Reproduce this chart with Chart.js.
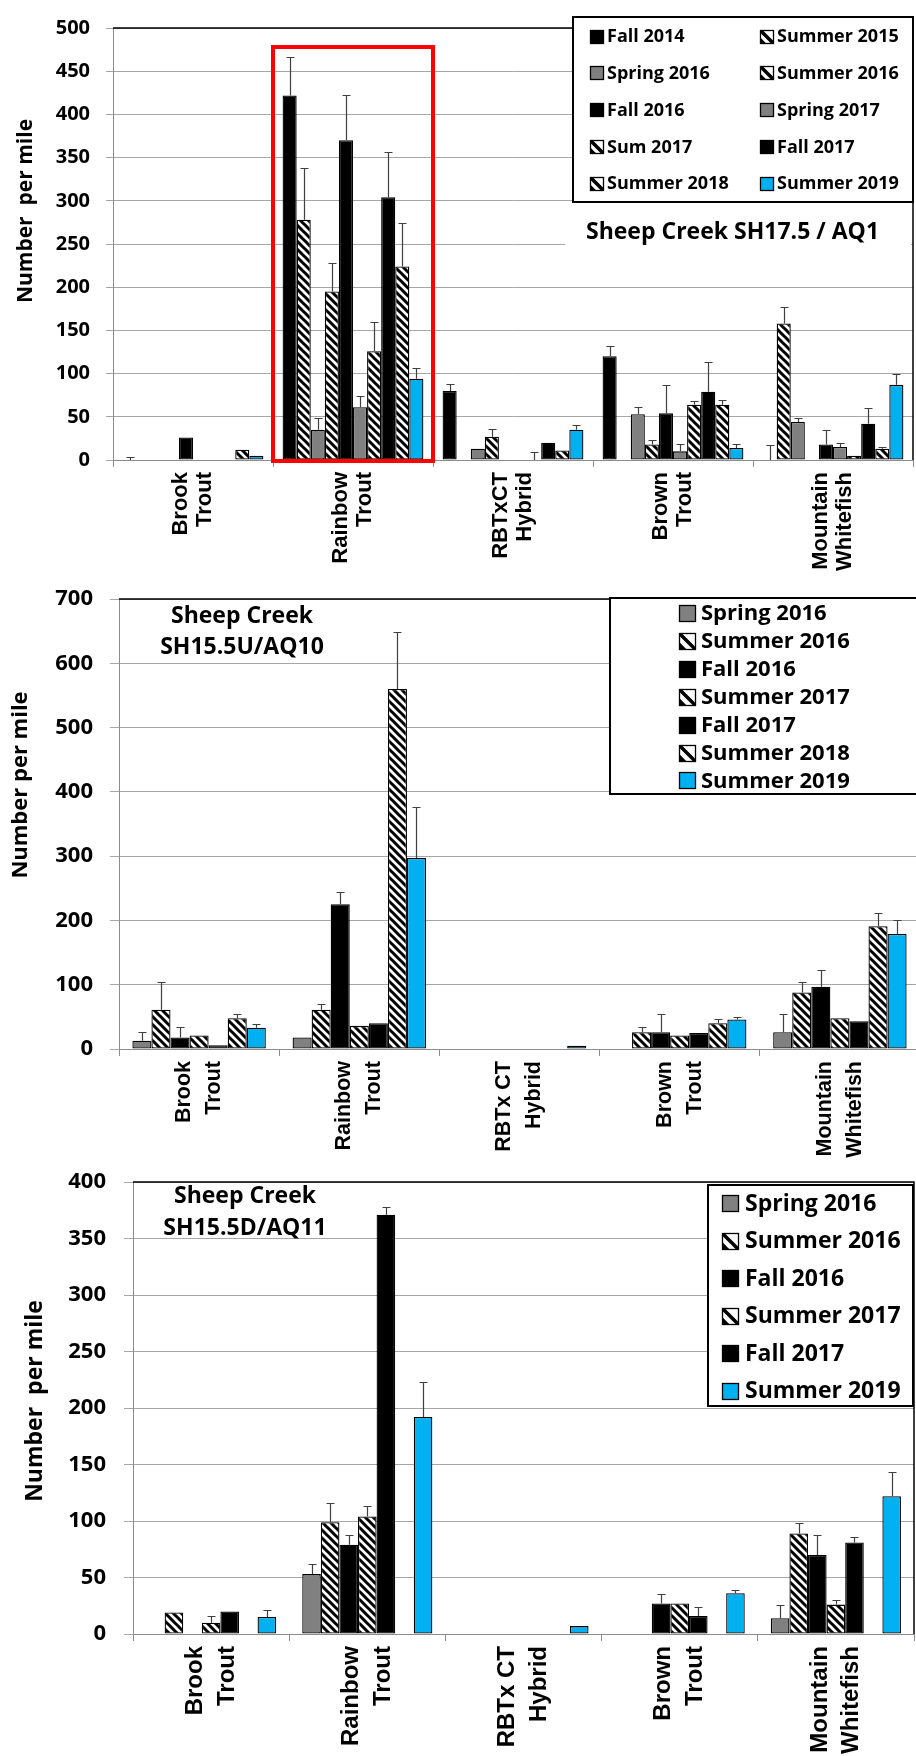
<!DOCTYPE html>
<html>
<head>
<meta charset="utf-8">
<script src="https://cdn.jsdelivr.net/npm/chart.js@4.4.0/dist/chart.umd.min.js"></script>
<style>
  html, body { margin: 0; padding: 0; background: #fff; overflow: hidden; width: 916px; height: 1756px; }
  canvas { position: absolute; left: 0; top: 0; }
</style>
</head>
<body>
<canvas id="aq1" width="930" height="1756"></canvas>
<canvas id="aq10" width="930" height="1756"></canvas>
<canvas id="aq11" width="930" height="1756"></canvas>
<script>
// ---- data (Number per mile), categories in order ----
const speciesAQ1 = [['Brook', 'Trout'], ['Rainbow', 'Trout'], ['RBTxCT', 'Hybrid'], ['Brown', 'Trout'], ['Mountain', 'Whitefish']];
const speciesAQ10 = [['Brook', 'Trout'], ['Rainbow', 'Trout'], ['RBTx CT', 'Hybrid'], ['Brown', 'Trout'], ['Mountain', 'Whitefish']];
const speciesAQ11 = speciesAQ10;

// Sheep Creek SH17.5 / AQ1
const aq1Fall2014     = [0, 422, 80, 120, 0],  aq1Fall2014Err     = [3, 44, 8, 12, 17];
const aq1Summer2015   = [0, 278, 0, 0, 158],   aq1Summer2015Err   = [0, 60, 0, 0, 19];
const aq1Spring2016   = [0, 35, 13, 53, 44],   aq1Spring2016Err   = [0, 14, 0, 8, 5];
const aq1Summer2016   = [0, 195, 27, 18, 0],   aq1Summer2016Err   = [0, 33, 9, 5, 0];
const aq1Fall2016     = [26, 370, 0, 54, 18],  aq1Fall2016Err     = [0, 52, 0, 33, 17];
const aq1Spring2017   = [0, 61, 0, 10, 15],    aq1Spring2017Err   = [0, 13, 0, 9, 5];
const aq1Sum2017      = [0, 126, 0, 64, 5],    aq1Sum2017Err      = [0, 34, 9, 4, 0];
const aq1Fall2017     = [0, 304, 20, 79, 42],  aq1Fall2017Err     = [0, 52, 0, 35, 18];
const aq1Summer2018   = [12, 224, 11, 64, 13], aq1Summer2018Err   = [0, 50, 0, 6, 2];
const aq1Summer2019   = [5, 94, 35, 14, 87],   aq1Summer2019Err   = [0, 13, 6, 4, 13];

// Sheep Creek SH15.5U / AQ10
const aq10Spring2016  = [13, 18, 0, 0, 26],    aq10Spring2016Err  = [13, 0, 0, 0, 28];
const aq10Summer2016  = [61, 61, 0, 26, 88],   aq10Summer2016Err  = [44, 9, 0, 9, 17];
const aq10Fall2016    = [18, 225, 0, 26, 97],  aq10Fall2016Err    = [17, 20, 0, 28, 26];
const aq10Summer2017  = [21, 36, 0, 21, 48],   aq10Summer2017Err  = [0, 0, 0, 0, 0];
const aq10Fall2017    = [6, 40, 0, 25, 43],    aq10Fall2017Err    = [0, 0, 0, 0, 0];
const aq10Summer2018  = [48, 560, 0, 40, 191], aq10Summer2018Err  = [6, 89, 0, 6, 21];
const aq10Summer2019  = [33, 297, 5, 46, 179], aq10Summer2019Err  = [6, 79, 0, 4, 22];

// Sheep Creek SH15.5D / AQ11 (no Summer 2018 sample, slot kept empty)
const aq11Spring2016  = [0, 53, 0, 0, 14],     aq11Spring2016Err  = [0, 9, 0, 0, 12];
const aq11Summer2016  = [19, 99, 0, 0, 89],    aq11Summer2016Err  = [0, 17, 0, 0, 9];
const aq11Fall2016    = [0, 79, 0, 27, 70],    aq11Fall2016Err    = [0, 9, 0, 8, 18];
const aq11Summer2017  = [10, 104, 0, 27, 26],  aq11Summer2017Err  = [6, 9, 0, 0, 4];
const aq11Fall2017    = [20, 371, 0, 16, 81],  aq11Fall2017Err    = [0, 7, 0, 8, 5];
const aq11Summer2018  = [null, null, null, null, null];
const aq11Summer2019  = [15, 192, 7, 36, 122], aq11Summer2019Err  = [6, 31, 0, 3, 21];

// ---- fills ----
function makeHatch() {
  const c = document.createElement('canvas');
  c.width = 8; c.height = 8;
  const g = c.getContext('2d');
  g.fillStyle = '#fff';
  g.fillRect(0, 0, 8, 8);
  g.strokeStyle = '#000';
  g.lineWidth = 3;
  g.beginPath();
  for (const k of [-8, 0, 8]) {
    g.moveTo(k - 2, -2);
    g.lineTo(k + 10, 10);
  }
  g.stroke();
  return g.createPattern(c, 'repeat');
}
const hatch = makeHatch();
const fills = { black: '#000000', gray: '#808080', blue: '#00b0f0', hatch: hatch };

function series(label, kind, data, err) {
  return {
    label: label, kind: kind, data: data, err: err || [],
    backgroundColor: fills[kind], borderColor: '#000', borderWidth: 1.3, borderSkipped: false
  };
}

// ---- decorations: error bars, frame, legend box, titles ----
const decor = {
  id: 'decor',
  afterDatasetsDraw(chart, args, o) {
    const ctx = chart.ctx, a = chart.chartArea, xs = chart.scales.x, ys = chart.scales.y;
    ctx.save();

    // error bars
    ctx.strokeStyle = '#404040';
    ctx.lineWidth = 1.2;
    chart.data.datasets.forEach((ds, i) => {
      const meta = chart.getDatasetMeta(i);
      meta.data.forEach((bar, j) => {
        const e = ds.err[j];
        if (!e) return;
        const v = ds.data[j] || 0;
        const x = Math.round(bar.x) + 0.5;
        const y0 = ys.getPixelForValue(v), y1 = Math.round(ys.getPixelForValue(v + e)) + 0.5;
        ctx.beginPath();
        ctx.moveTo(x, y0); ctx.lineTo(x, y1);
        ctx.moveTo(x - 4, y1); ctx.lineTo(x + 4, y1);
        ctx.stroke();
      });
    });

    // plot frame top and right
    ctx.strokeStyle = '#000';
    ctx.lineWidth = 1.5;
    ctx.beginPath();
    ctx.moveTo(a.left, a.top); ctx.lineTo(a.right, a.top); ctx.lineTo(a.right, a.bottom);
    ctx.stroke();

    // highlight box
    if (o.redBox) {
      const w = (xs.right - xs.left) / chart.data.labels.length;
      const cx = xs.getPixelForValue(o.redBox.index);
      const top = ys.getPixelForValue(o.redBox.top), bot = ys.getPixelForValue(0) + 1;
      ctx.strokeStyle = '#ff0000';
      ctx.lineWidth = 4;
      ctx.strokeRect(cx - w / 2, top, w, bot - top);
    }

    // panel title
    if (o.titleBg) {
      ctx.fillStyle = '#fff';
      ctx.fillRect(o.titleBg[0], o.titleBg[1], o.titleBg[2], o.titleBg[3]);
    }
    ctx.fillStyle = '#000';
    ctx.font = 'bold ' + o.titleSize + 'px "Open Sans"';
    ctx.textAlign = o.titleAlign;
    ctx.textBaseline = 'alphabetic';
    o.title.forEach(t => ctx.fillText(t[0], t[1], t[2]));

    // legend
    const L = o.legend;
    ctx.fillStyle = '#fff';
    ctx.fillRect(L.x, L.y, L.w, L.h);
    ctx.strokeStyle = '#000';
    ctx.lineWidth = 2;
    ctx.strokeRect(L.x, L.y, L.w, L.h);
    ctx.font = 'bold ' + L.font + 'px "Open Sans"';
    ctx.textAlign = 'left';
    ctx.textBaseline = 'middle';
    let n = 0;
    chart.data.datasets.forEach(ds => {
      if (ds.data.every(v => v === null)) return;
      const col = n % L.cols.length, row = Math.floor(n / L.cols.length);
      const ix = L.cols[col], iy = L.row0 + row * L.rowStep;
      const s = L.icon;
      const top = Math.round(iy - s / 2) + 0.5, left = ix + 0.5;
      if (ds.kind === 'hatch') {
        ctx.fillStyle = '#fff';
        ctx.fillRect(left, top, s, s);
        ctx.save();
        ctx.beginPath(); ctx.rect(left, top, s, s); ctx.clip();
        ctx.strokeStyle = '#000'; ctx.lineWidth = 3.5;
        ctx.beginPath(); ctx.moveTo(left, top); ctx.lineTo(left + s, top + s); ctx.stroke();
        ctx.fillStyle = '#000';
        ctx.beginPath(); ctx.moveTo(left, top + s * 0.55); ctx.lineTo(left, top + s); ctx.lineTo(left + s * 0.45, top + s); ctx.fill();
        ctx.restore();
      } else {
        ctx.fillStyle = ds.backgroundColor;
        ctx.fillRect(left, top, s, s);
      }
      ctx.strokeStyle = '#000'; ctx.lineWidth = 1.3;
      ctx.strokeRect(left, top, s, s);
      ctx.fillStyle = '#000';
      ctx.fillText(ds.label, ix + L.gap, iy + 1);
      n++;
    });

    // y axis title
    const T = o.yTitle;
    ctx.translate(T.x, T.y);
    ctx.rotate(-Math.PI / 2);
    ctx.font = 'bold ' + T.size + 'px "Open Sans"';
    ctx.textAlign = 'center';
    ctx.textBaseline = 'middle';
    ctx.fillStyle = '#000';
    ctx.fillText(T.text, 0, 0);
    ctx.restore();
  }
};

function buildPanel(id, p) {
  const axisH = p.axisH;
  return new Chart(document.getElementById(id), {
    type: 'bar',
    data: { labels: p.labels, datasets: p.datasets },
    options: {
      responsive: false,
      animation: false,
      events: [],
      devicePixelRatio: 1,
      datasets: { bar: { categoryPercentage: p.catPct, barPercentage: 1 } },
      layout: { padding: { left: 0, top: p.area.top, right: 930 - p.area.right, bottom: 1756 - p.area.bottom - axisH } },
      plugins: { legend: { display: false }, tooltip: { enabled: false }, decor: p.decor },
      scales: {
        x: {
          grid: { offset: true, drawOnChartArea: false, drawTicks: true, tickLength: 7, color: '#8c8c8c' },
          border: { color: '#8c8c8c', width: 1 },
          ticks: {
            autoSkip: false, minRotation: 90, maxRotation: 90, padding: 5, color: '#000',
            labelOffset: -p.xFont * p.xLine / 2,
            font: { family: '"Liberation Sans", Arial, sans-serif', weight: 'bold', size: p.xFont, lineHeight: p.xLine }
          },
          afterFit: s => { s.height = axisH; }
        },
        y: {
          min: 0, max: p.yMax,
          ticks: { stepSize: p.yStep, padding: p.yPad, color: '#000',
            font: { family: '"Open Sans"', weight: 'bold', size: p.yFont } },
          grid: { color: '#a6a6a6', lineWidth: 1, tickLength: p.yTick },
          border: { color: '#8c8c8c', width: 1 },
          afterFit: s => { s.width = p.area.left; }
        }
      }
    },
    plugins: [decor]
  });
}

buildPanel('aq1', {
  labels: speciesAQ1,
  area: { left: 113, top: 17, right: 913, bottom: 460 }, axisH: 125,
  catPct: 0.88, yMax: 500, yStep: 50, yFont: 20, yPad: 16, yTick: 7, xFont: 22, xLine: 1.1,
  datasets: [
    series('Fall 2014', 'black', aq1Fall2014, aq1Fall2014Err),
    series('Summer 2015', 'hatch', aq1Summer2015, aq1Summer2015Err),
    series('Spring 2016', 'gray', aq1Spring2016, aq1Spring2016Err),
    series('Summer 2016', 'hatch', aq1Summer2016, aq1Summer2016Err),
    series('Fall 2016', 'black', aq1Fall2016, aq1Fall2016Err),
    series('Spring 2017', 'gray', aq1Spring2017, aq1Spring2017Err),
    series('Sum 2017', 'hatch', aq1Sum2017, aq1Sum2017Err),
    series('Fall 2017', 'black', aq1Fall2017, aq1Fall2017Err),
    series('Summer 2018', 'hatch', aq1Summer2018, aq1Summer2018Err),
    series('Summer 2019', 'blue', aq1Summer2019, aq1Summer2019Err)
  ],
  decor: {
    redBox: { index: 1, top: 478 },
    titleBg: [565, 214, 346, 33],
    titleSize: 23, titleAlign: 'left',
    title: [['Sheep Creek SH17.5 / AQ1', 586, 239]],
    legend: { x: 573, y: 17, w: 340, h: 185, cols: [590, 760], gap: 17, row0: 36, rowStep: 36.8, icon: 13, font: 18 },
    yTitle: { text: 'Number  per mile', x: 26, y: 211, size: 21 }
  }
});

buildPanel('aq10', {
  labels: speciesAQ10,
  area: { left: 119, top: 599, right: 920, bottom: 1049 }, axisH: 125,
  catPct: 0.833, yMax: 700, yStep: 100, yFont: 22, yPad: 17, yTick: 9, xFont: 21.5, xLine: 1.4,
  datasets: [
    series('Spring 2016', 'gray', aq10Spring2016, aq10Spring2016Err),
    series('Summer 2016', 'hatch', aq10Summer2016, aq10Summer2016Err),
    series('Fall 2016', 'black', aq10Fall2016, aq10Fall2016Err),
    series('Summer 2017', 'hatch', aq10Summer2017, aq10Summer2017Err),
    series('Fall 2017', 'black', aq10Fall2017, aq10Fall2017Err),
    series('Summer 2018', 'hatch', aq10Summer2018, aq10Summer2018Err),
    series('Summer 2019', 'blue', aq10Summer2019, aq10Summer2019Err)
  ],
  decor: {
    titleSize: 23, titleAlign: 'center',
    title: [['Sheep Creek', 242, 623], ['SH15.5U/AQ10', 242, 654]],
    legend: { x: 610, y: 598, w: 330, h: 196, cols: [679], gap: 22, row0: 613, rowStep: 27.9, icon: 16, font: 22 },
    yTitle: { text: 'Number per mile', x: 21, y: 785, size: 22 }
  }
});

buildPanel('aq11', {
  labels: speciesAQ11,
  area: { left: 133, top: 1182, right: 914, bottom: 1634 }, axisH: 122,
  catPct: 0.833, yMax: 400, yStep: 50, yFont: 22, yPad: 18, yTick: 9, xFont: 24, xLine: 1.33,
  datasets: [
    series('Spring 2016', 'gray', aq11Spring2016, aq11Spring2016Err),
    series('Summer 2016', 'hatch', aq11Summer2016, aq11Summer2016Err),
    series('Fall 2016', 'black', aq11Fall2016, aq11Fall2016Err),
    series('Summer 2017', 'hatch', aq11Summer2017, aq11Summer2017Err),
    series('Fall 2017', 'black', aq11Fall2017, aq11Fall2017Err),
    series('Summer 2018', 'hatch', aq11Summer2018),
    series('Summer 2019', 'blue', aq11Summer2019, aq11Summer2019Err)
  ],
  decor: {
    titleSize: 23, titleAlign: 'center',
    title: [['Sheep Creek', 245, 1203], ['SH15.5D/AQ11', 245, 1235]],
    legend: { x: 708, y: 1185, w: 205, h: 221, cols: [722], gap: 23, row0: 1203, rowStep: 37.5, icon: 16, font: 23 },
    yTitle: { text: 'Number  per mile', x: 35, y: 1401, size: 23 }
  }
});
</script>
</body>
</html>
